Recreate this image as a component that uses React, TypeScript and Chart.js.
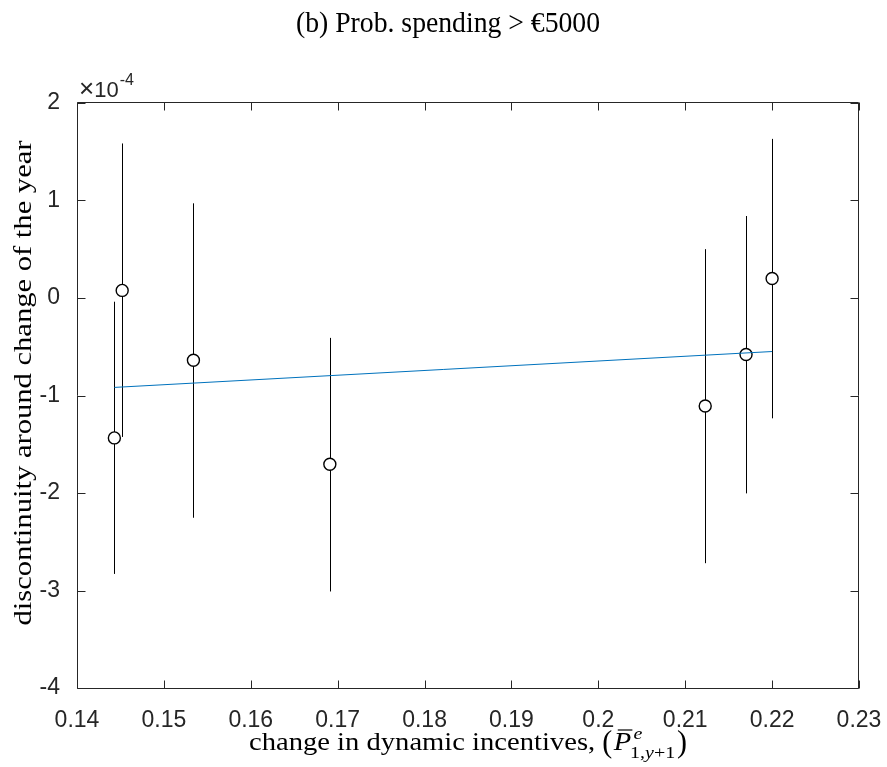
import { useEffect, useRef } from "react";
import { Chart, registerables } from "chart.js";

Chart.register(...registerables);

// Data (discontinuity values are in units of 10^-4)
const incentiveChange = [0.1443, 0.1452, 0.1534, 0.1691, 0.2123, 0.217, 0.22];
const discontinuity = [-1.435, 0.078, -0.638, -1.705, -1.108, -0.58, 0.2];
const ciLower = [-2.83, -1.425, -2.254, -3.01, -2.72, -2.004, -1.234];
const ciUpper = [-0.038, 1.585, 0.971, -0.409, 0.501, 0.841, 1.632];
const fitX = [0.1443, 0.22];
const fitY = [-0.917, -0.549];
const xTicks = [0.14, 0.15, 0.16, 0.17, 0.18, 0.19, 0.2, 0.21, 0.22, 0.23];
const yTicks = [-4, -3, -2, -1, 0, 1, 2];

const titleText = "(b) Prob. spending > \u20AC5000";
const yLabelText = "discontinuity around change of the year";
const xLabelText = "change in dynamic incentives, ";

const SANS = '"Liberation Sans", Arial, Helvetica, sans-serif';
const SERIF = '"Liberation Serif", "Times New Roman", serif';
const AXIS_COLOR = "#262626";

const fmtX = (v: number) => String(Number(v.toFixed(2)));

const decorPlugin = {
  id: "decor",
  beforeDraw(chart: any) {
    const { ctx, width, height } = chart;
    ctx.save();
    ctx.fillStyle = "#ffffff";
    ctx.fillRect(0, 0, width, height);
    ctx.restore();
  },
  beforeDatasetsDraw(chart: any) {
    const { ctx } = chart;
    const xs = chart.scales.x;
    const ys = chart.scales.y;
    ctx.save();
    ctx.strokeStyle = "#000000";
    ctx.lineWidth = 1;
    for (let i = 0; i < incentiveChange.length; i++) {
      const px = Math.round(xs.getPixelForValue(incentiveChange[i])) + 0.5;
      ctx.beginPath();
      ctx.moveTo(px, ys.getPixelForValue(ciLower[i]));
      ctx.lineTo(px, ys.getPixelForValue(ciUpper[i]));
      ctx.stroke();
    }
    ctx.restore();
  },
  afterDatasetsDraw(chart: any) {
    const { ctx, chartArea } = chart;
    const xs = chart.scales.x;
    const ys = chart.scales.y;
    const L = Math.round(chartArea.left) + 0.5;
    const R = Math.round(chartArea.right) - 0.5;
    const T = Math.round(chartArea.top) - 0.5;
    const B = Math.round(chartArea.bottom) + 0.5;
    const tl = 8;
    ctx.save();
    ctx.strokeStyle = AXIS_COLOR;
    ctx.lineWidth = 1;
    ctx.beginPath();
    ctx.rect(L, T, R - L, B - T);
    ctx.stroke();
    ctx.beginPath();
    for (const v of xTicks) {
      const px = Math.round(xs.getPixelForValue(v)) + 0.5;
      ctx.moveTo(px, B);
      ctx.lineTo(px, B - tl);
      ctx.moveTo(px, T);
      ctx.lineTo(px, T + tl);
    }
    for (const v of yTicks) {
      const py = Math.round(ys.getPixelForValue(v)) + 0.5;
      ctx.moveTo(L, py);
      ctx.lineTo(L + tl, py);
      ctx.moveTo(R, py);
      ctx.lineTo(R - tl, py);
    }
    ctx.stroke();
    ctx.restore();
  },
  afterDraw(chart: any) {
    const { ctx } = chart;
    ctx.save();
    ctx.fillStyle = "#000000";

    // Title (fit to measured width)
    {
      ctx.font = `29px ${SERIF}`;
      const w = ctx.measureText(titleText).width;
      const target = 304;
      const k = target / w;
      ctx.save();
      ctx.translate(448 - target / 2, 32);
      ctx.scale(k, 1);
      ctx.textAlign = "left";
      ctx.textBaseline = "alphabetic";
      ctx.fillText(titleText, 0, 0);
      ctx.restore();
    }

    // Y label (rotated)
    {
      ctx.font = `25px ${SERIF}`;
      const w = ctx.measureText(yLabelText).width;
      const target = 485;
      const k = target / w;
      ctx.save();
      ctx.translate(31, 383);
      ctx.rotate(-Math.PI / 2);
      ctx.scale(k, 1);
      ctx.textAlign = "center";
      ctx.textBaseline = "alphabetic";
      ctx.fillText(yLabelText, 0, 0);
      ctx.restore();
    }

    // X label with math
    {
      const S = 25;
      const s = S * 0.7;
      const reg = `${S}px ${SERIF}`;
      const ital = `italic ${S}px ${SERIF}`;
      const sreg = `${s}px ${SERIF}`;
      const sital = `italic ${s}px ${SERIF}`;
      const m = (t: string, f: string) => {
        ctx.font = f;
        return ctx.measureText(t).width;
      };
      const wMain = m(xLabelText, reg);
      const wOpen = m("(", reg) * 1.05;
      const wP = m("P", ital);
      const wE = m("e", sital);
      const w1 = m("1,", sreg);
      const wy = m("y", sital);
      const wp1 = m("+1", sreg);
      const wClose = m(")", reg) * 1.05;
      const pX = wMain + wOpen + 0.05 * S;
      const supX = pX + wP + 0.08 * S;
      const subX = pX + wP - 0.04 * S;
      const subW = w1 + wy + wp1;
      const closeX = Math.max(supX + wE, subX + subW) + 0.06 * S;
      const total = closeX + wClose;
      const target = 438;
      const k = target / total;
      const base = 750;
      ctx.save();
      ctx.translate(249, base);
      ctx.scale(k, 1);
      ctx.textAlign = "left";
      ctx.textBaseline = "alphabetic";
      ctx.font = reg;
      ctx.fillText(xLabelText, 0, 0);
      // enlarged parentheses (\left( ... \right))
      const drawParen = (ch: string, x: number) => {
        ctx.save();
        ctx.translate(x, -0.25 * S);
        ctx.scale(1.05, 1.28);
        ctx.font = reg;
        ctx.fillText(ch, 0, 0.25 * S);
        ctx.restore();
      };
      drawParen("(", wMain);
      ctx.font = ital;
      ctx.fillText("P", pX, 0);
      // bar over P
      ctx.strokeStyle = "#000";
      ctx.lineWidth = 1.2;
      ctx.beginPath();
      ctx.moveTo(pX + 0.14 * S, -0.8 * S);
      ctx.lineTo(pX + wP + 0.04 * S, -0.8 * S);
      ctx.stroke();
      ctx.font = sital;
      ctx.fillText("e", supX, -0.45 * S);
      const subY = 0.3 * S;
      ctx.font = sreg;
      ctx.fillText("1,", subX, subY);
      ctx.font = sital;
      ctx.fillText("y", subX + w1, subY);
      ctx.font = sreg;
      ctx.fillText("+1", subX + w1 + wy, subY);
      drawParen(")", closeX);
      ctx.restore();
    }

    // Exponent label
    ctx.fillStyle = AXIS_COLOR;
    ctx.textAlign = "left";
    ctx.textBaseline = "alphabetic";
    ctx.font = `26px ${SANS}`;
    ctx.fillText("\u00D7", 79, 97);
    const wx = ctx.measureText("\u00D7").width;
    ctx.font = `22px ${SANS}`;
    ctx.fillText("10", 79 + wx, 97);
    const w10 = ctx.measureText("10").width;
    ctx.font = `16px ${SANS}`;
    ctx.fillText("-4", 79 + wx + w10 + 1, 85);
    ctx.restore();
  },
};

export default function App() {
  const ref = useRef<HTMLCanvasElement>(null);

  useEffect(() => {
    const canvas = ref.current;
    if (!canvas) return;
    const chart = new Chart(canvas, {
      type: "scatter",
      data: {
        datasets: [
          {
            type: "line",
            label: "fit",
            data: fitX.map((x, i) => ({ x, y: fitY[i] })),
            borderColor: "#0072BD",
            borderWidth: 1,
            pointRadius: 0,
            fill: false,
            order: 1,
          } as any,
          {
            type: "scatter",
            label: "estimates",
            data: incentiveChange.map((x, i) => ({ x, y: discontinuity[i] })),
            pointStyle: "circle",
            pointRadius: 6,
            pointBorderWidth: 1.4,
            borderColor: "#000000",
            backgroundColor: "#ffffff",
            order: 2,
          },
        ],
      },
      options: {
        responsive: false,
        devicePixelRatio: 1,
        animation: false,
        events: [],
        layout: { padding: { top: 103, right: 28, left: 0, bottom: 0 } },
        plugins: {
          legend: { display: false },
          tooltip: { enabled: false },
          title: { display: false },
        },
        scales: {
          x: {
            type: "linear",
            min: 0.14,
            max: 0.23,
            grid: { display: false },
            border: { display: false },
            afterBuildTicks: (scale: any) => {
              scale.ticks = xTicks.map((value) => ({ value }));
            },
            afterFit: (scale: any) => {
              scale.height = 79;
              scale.paddingLeft = 0;
              scale.paddingRight = 0;
            },
            ticks: {
              padding: 11,
              maxRotation: 0,
              autoSkip: false,
              color: AXIS_COLOR,
              font: { family: SANS, size: 23 },
              callback: (v: any) => fmtX(Number(v)),
            },
          },
          y: {
            type: "linear",
            min: -4,
            max: 2,
            grid: { display: false },
            border: { display: false },
            afterBuildTicks: (scale: any) => {
              scale.ticks = yTicks.map((value) => ({ value }));
            },
            afterFit: (scale: any) => {
              scale.width = 77;
              scale.paddingTop = 0;
              scale.paddingBottom = 0;
            },
            ticks: {
              padding: 9,
              autoSkip: false,
              color: AXIS_COLOR,
              font: { family: SANS, size: 23 },
              callback: (v: any) => String(v),
            },
          },
        },
      },
      plugins: [decorPlugin],
    } as any);
    return () => chart.destroy();
  }, []);

  return (
    <div
      style={{
        position: "absolute",
        left: 0,
        top: 0,
        width: 887,
        height: 767,
        background: "#ffffff",
      }}
    >
      <canvas
        ref={ref}
        width={887}
        height={767}
        style={{ display: "block", width: 887, height: 767 }}
      />
    </div>
  );
}
